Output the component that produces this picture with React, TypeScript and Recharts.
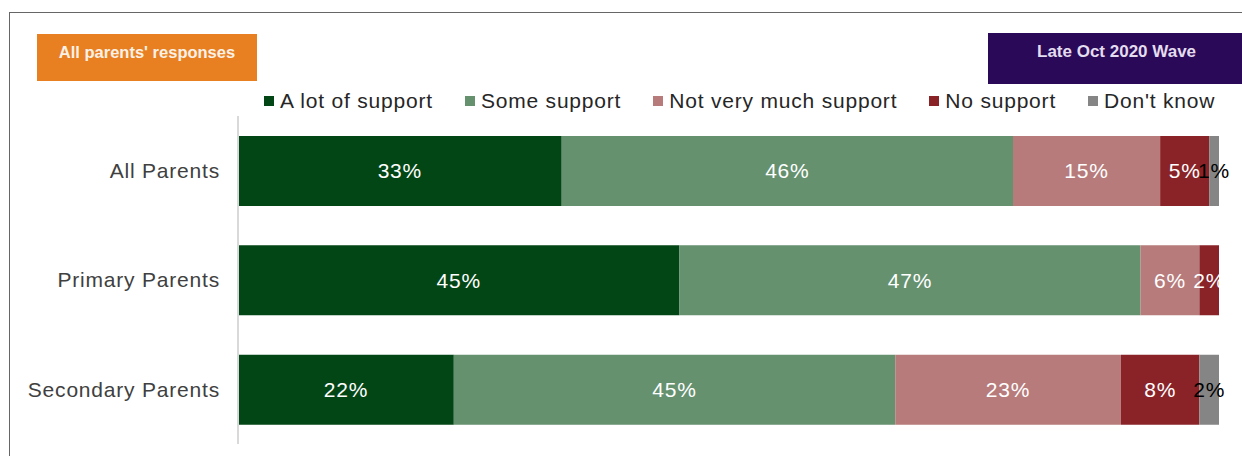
import { BarChart, Bar, XAxis, YAxis, LabelList } from "recharts";

const categories = ["All Parents", "Primary Parents", "Secondary Parents"];
const aLotOfSupport = [33, 45, 22];
const someSupport = [46, 47, 45];
const notVeryMuchSupport = [15, 6, 23];
const noSupport = [5, 2, 8];
const dontKnow = [1, 0, 2];

const series = [
  { key: "aLot", name: "A lot of support", color: "#034616", label: "#ffffff", values: aLotOfSupport },
  { key: "some", name: "Some support", color: "#65916f", label: "#ffffff", values: someSupport },
  { key: "notVery", name: "Not very much support", color: "#b77b7b", label: "#ffffff", values: notVeryMuchSupport },
  { key: "none", name: "No support", color: "#8a2328", label: "#ffffff", values: noSupport },
  { key: "dk", name: "Don't know", color: "#858585", label: "#000000", values: dontKnow },
];

const data = categories.map((name, i) => {
  const row: Record<string, string | number> = { name };
  series.forEach((s) => { row[s.key] = s.values[i]; });
  return row;
});

const font = "'Liberation Sans', Arial, sans-serif";

export default function App() {
  return (
    <div style={{ position: "fixed", top: 0, left: 0, width: 1242, height: 456, background: "#fff", overflow: "hidden", fontFamily: font }}>
      <div style={{ position: "absolute", left: 9, top: 12, width: 1260, height: 470, borderTop: "1.5px solid #666", borderLeft: "1.5px solid #666" }} />
      <div style={{ position: "absolute", left: 37, top: 34, width: 220, height: 47, background: "#e87f21", color: "#fbf1e6", fontWeight: 700, fontSize: 16.5, textAlign: "center", lineHeight: "36px" }}>
        All parents' responses
      </div>
      <div style={{ position: "absolute", left: 988, top: 33, width: 254, height: 51, background: "#2a0a58", color: "#e4dcef", fontWeight: 700, fontSize: 17, lineHeight: "38px", paddingLeft: 0 }}>
        <span style={{ position: "absolute", left: 49 }}>Late Oct 2020 Wave</span>
      </div>
      <div style={{ position: "absolute", left: 264, top: 88, display: "flex", gap: 32, fontSize: 21, letterSpacing: 0.8, color: "#262626", lineHeight: "26px" }}>
        {series.map((s) => (
          <div key={s.key} style={{ display: "flex", alignItems: "center" }}>
            <span style={{ display: "inline-block", width: 10, height: 10, background: s.color, marginRight: 6 }} />
            <span>{s.name}</span>
          </div>
        ))}
      </div>
      <div style={{ position: "absolute", left: 0, top: 0 }}>
        <BarChart width={1242} height={456} layout="vertical" data={data} margin={{ top: 116, right: 23, bottom: 12, left: 0 }} barSize={70}>
          <XAxis type="number" domain={[0, 100]} hide />
          <YAxis
            type="category"
            dataKey="name"
            width={238}
            axisLine={{ stroke: "#d9d9d9", strokeWidth: 2 }}
            tickLine={false}
            tickMargin={12}
            tick={{ fill: "#404040", fontSize: 21, fontFamily: font, letterSpacing: 0.8 }}
          />
          {series.map((s) => (
            <Bar key={s.key} dataKey={s.key} name={s.name} stackId="a" fill={s.color} isAnimationActive={false}>
              <LabelList
                dataKey={s.key}
                position="center"
                fill={s.label}
                fontSize={21}
                fontFamily={font}
                letterSpacing={0.8}
                formatter={(v: number) => (v ? `${v}%` : "")}
              />
            </Bar>
          ))}
        </BarChart>
      </div>
    </div>
  );
}
